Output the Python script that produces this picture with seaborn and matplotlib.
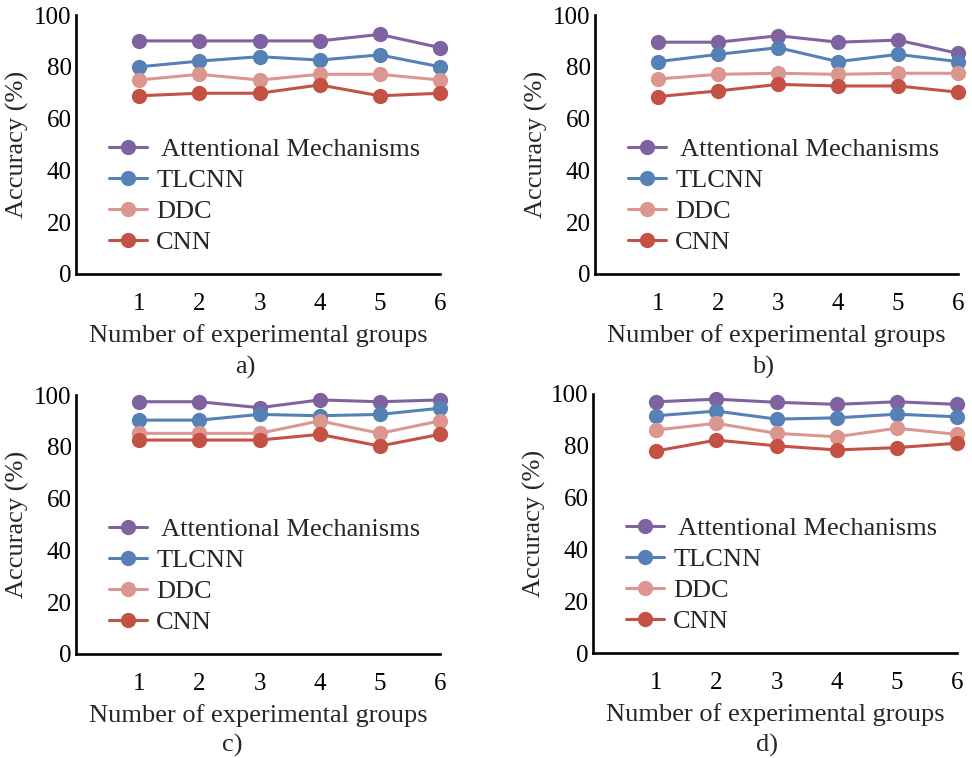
import seaborn as sns
import matplotlib.pyplot as plt
import pandas as pd

groups = [1, 2, 3, 4, 5, 6]
methods = [' Attentional Mechanisms', 'TLCNN', 'DDC', 'CNN']
colors = ['#7F63A1', '#5581B7', '#DC9690', '#C35245']

# a)
attn_a = [90.0, 90.0, 90.0, 90.0, 92.5, 87.4]
tlcnn_a = [80.0, 82.2, 83.9, 82.6, 84.6, 80.0]
ddc_a = [74.9, 77.1, 74.9, 77.1, 77.1, 74.9]
cnn_a = [68.8, 69.8, 69.8, 73.0, 68.8, 69.8]

# b)
attn_b = [89.5, 89.5, 92.0, 89.5, 90.3, 85.2]
tlcnn_b = [82.0, 84.8, 87.4, 82.0, 84.8, 82.0]
ddc_b = [75.3, 77.1, 77.5, 77.1, 77.5, 77.5]
cnn_b = [68.5, 70.7, 73.2, 72.6, 72.6, 70.2]

# c)
attn_c = [97.4, 97.4, 95.1, 98.1, 97.4, 98.1]
tlcnn_c = [90.3, 90.3, 92.5, 92.0, 92.5, 94.9]
ddc_c = [85.2, 85.2, 85.2, 90.0, 85.2, 90.0]
cnn_c = [82.6, 82.6, 82.6, 84.8, 80.3, 84.8]

# d)
attn_d = [97.0, 98.0, 96.8, 96.0, 97.0, 96.0]
tlcnn_d = [91.6, 93.4, 90.3, 90.8, 92.2, 91.2]
ddc_d = [86.1, 88.7, 84.8, 83.5, 86.8, 84.4]
cnn_d = [78.0, 82.2, 80.0, 78.4, 79.3, 81.0]

panels = [
    ('a)', [attn_a, tlcnn_a, ddc_a, cnn_a], [76, 15, 440, 274], 245, 367),
    ('b)', [attn_b, tlcnn_b, ddc_b, cnn_b], [595, 15, 958, 274], 763, 367),
    ('c)', [attn_c, tlcnn_c, ddc_c, cnn_c], [76, 395, 440, 654], 232, 745),
    ('d)', [attn_d, tlcnn_d, ddc_d, cnn_d], [593, 394, 957, 653], 767, 745),
]

sns.set_style('white')
plt.rcParams['font.family'] = ['Liberation Serif', 'DejaVu Serif']

W, H = 972, 758
fig = plt.figure(figsize=(W / 100, H / 100), dpi=100)

for tag, series, (x0, y0, x1, y1), tx, ty in panels:
    ax = fig.add_axes([x0 / W, 1 - y1 / H, (x1 - x0) / W, (y1 - y0) / H])
    rows = []
    for name, vals in zip(methods, series):
        for g, v in zip(groups, vals):
            rows.append((g, v, name))
    df = pd.DataFrame(rows, columns=['group', 'acc', 'method'])
    sns.lineplot(data=df, x='group', y='acc', hue='method', hue_order=methods,
                 palette=colors, marker='o', markersize=11, linewidth=2.2,
                 markeredgewidth=0, ax=ax)
    for ln in ax.lines:
        ln.set_clip_on(False)
    ax.set_xlim(-0.05, 6)
    ax.set_ylim(0, 100)
    ax.set_xticks(groups)
    ax.set_yticks([0, 20, 40, 60, 80, 100])
    sns.despine(ax=ax)
    for s in ['left', 'bottom']:
        ax.spines[s].set_linewidth(1.9)
        ax.spines[s].set_color('black')
    ax.tick_params(axis='both', direction='in', length=7, width=1.9,
                   labelsize=18, colors='black')
    ax.tick_params(axis='x', pad=14)
    ax.tick_params(axis='y', pad=3)
    ax.set_xlabel('Number of experimental groups', fontsize=19, labelpad=6)
    ax.set_ylabel('Accuracy (%)', fontsize=19, labelpad=4)
    ax.legend(loc='upper left', bbox_to_anchor=(0.09, 0.525), frameon=False,
              fontsize=19, borderpad=0, borderaxespad=0, handlelength=1.45,
              handletextpad=0.35, labelspacing=0.28)
    fig.text(tx / W, 1 - ty / H, tag, fontsize=19, ha='center', va='center')

plt.savefig('out.png', dpi=100)
